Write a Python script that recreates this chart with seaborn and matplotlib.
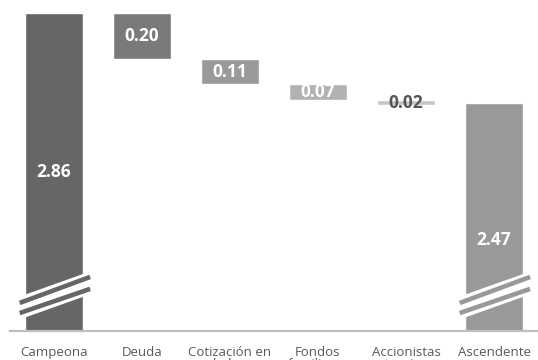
import matplotlib
matplotlib.use("Agg")
import matplotlib.pyplot as plt
import seaborn as sns

# Waterfall data
categories = ["Campeona", "Deuda", "Cotización en\nbolsa", "Fondos\nfamiliares",
              "Accionistas\nextranjeros", "Ascendente"]
values = [2.86, 0.20, 0.11, 0.07, 0.02, 2.47]
is_total = [True, False, False, False, False, True]
bar_colors = ["#666666", "#7a7a7a", "#9a9a9a", "#b2b2b2", "#c6c6c6", "#999999"]
label_colors = ["white", "white", "white", "white", "#555555", "white"]

# compute bar tops / bottoms for the floating steps
tops, bottoms = [], []
level = 0.0
for v, tot in zip(values, is_total):
    if tot:
        tops.append(v)
        bottoms.append(0.0)
        level = v
    else:
        tops.append(level)
        bottoms.append(level - v)
        level = level - v

sns.set_theme(style="white")
plt.rcParams["font.family"] = ["Open Sans", "DejaVu Sans"]

fig = plt.figure(figsize=(5.38, 3.6), dpi=100)
ax = fig.add_axes([10 / 538, 29 / 360, 528 / 538, 331 / 360])

sns.barplot(x=list(range(len(categories))), y=tops, hue=list(range(len(categories))),
            palette=bar_colors, legend=False, width=0.66, saturation=1, ax=ax)

for patch, b, t in zip(ax.patches, bottoms, tops):
    patch.set_y(b)
    patch.set_height(t - b)

# broken axis: the scale starts above zero
y_min = 1.477
ax.set_ylim(y_min, y_min + 331 / 230)
ax.set_xlim(-0.5, -0.5 + 528 / 89)

# value labels
for i, (v, b, t) in enumerate(zip(values, bottoms, tops)):
    if is_total[i]:
        ypos = (t + y_min) / 2 if i == 0 else y_min + 0.395
    else:
        ypos = (t + b) / 2
    ax.text(i, ypos, f"{v:.2f}", ha="center", va="center", fontsize=12.5,
            fontweight="bold", color=label_colors[i])

# axis break marks on the total bars
for i in [0, len(categories) - 1]:
    x0, x1 = i - 0.39, i + 0.41
    ax.plot([x0, x1], [1.577, 1.686], color="white", lw=15.5,
            solid_capstyle="butt", zorder=5)
    for y0, y1 in [(1.599, 1.712), (1.555, 1.660)]:
        ax.plot([x0, x1], [y0, y1], color=bar_colors[i], lw=3.3,
                solid_capstyle="butt", zorder=6)

# axes styling
for side in ["top", "right", "left"]:
    ax.spines[side].set_visible(False)
ax.spines["bottom"].set_color("#bfbfbf")
ax.spines["bottom"].set_linewidth(1.6)
ax.set_yticks([])
ax.set_xticks(range(len(categories)))
ax.set_xticklabels(categories, fontsize=9.5, color="#595959", linespacing=0.85)
ax.set_xticks([i - 0.5 for i in range(len(categories) + 1)], minor=True)
ax.tick_params(axis="x", which="major", length=0, pad=11)
ax.tick_params(axis="x", which="minor", length=5, width=1.6, color="#bfbfbf",
               direction="out")
ax.set_xlabel("")
ax.set_ylabel("")

fig.savefig("out.png", dpi=100)
